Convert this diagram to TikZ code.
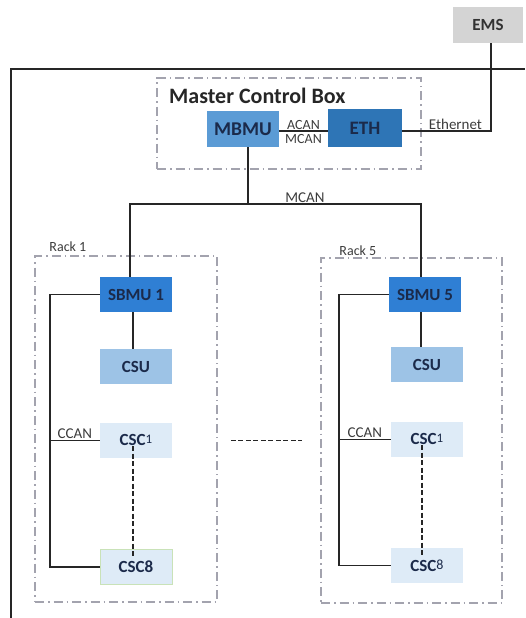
\documentclass[tikz,border=0pt]{standalone}
\usepackage{fontspec}
\setmainfont{Carlito}
\usetikzlibrary{positioning, calc}

\definecolor{emsgray}{HTML}{D4D4D4}
\definecolor{mbmublue}{HTML}{5B9BD5}
\definecolor{ethblue}{HTML}{2E75B6}
\definecolor{sbmublue}{HTML}{2F7FD4}
\definecolor{csublue}{HTML}{9DC3E6}
\definecolor{cscblue}{HTML}{DEEBF7}
\definecolor{cscgreen}{HTML}{C9E2B8}
\definecolor{boxtext}{HTML}{1B2A4A}
\definecolor{labtext}{HTML}{3C3C3C}
\definecolor{rackgray}{HTML}{A3A3AE}

\begin{document}
\begin{tikzpicture}[
    x=1pt, y=-1pt,
    % unit boxes
    unitbox/.style={
        draw=none,
        font=\fontsize{17}{17}\selectfont\bfseries,
        text=boxtext,
        align=center,
        inner sep=0pt,
        minimum width=72pt,
        minimum height=35pt
    },
    % dash-dot frames round the groups
    groupbox/.style={
        draw=rackgray,
        line width=1.5pt,
        dash pattern=on 9pt off 4pt on 1.5pt off 4pt,
        inner sep=0pt
    },
    % small bus labels
    buslabel/.style={
        font=\fontsize{15}{15}\selectfont,
        text=labtext,
        inner sep=1pt
    },
    wire/.style={line width=1.4pt, black!85},
    gapline/.style={line width=1.5pt, black!85, dash pattern=on 5pt off 2.5pt}
]
    \useasboundingbox (0,0) rectangle (525,618);

    % --- 1. EMS and outer frame ---
    \node[unitbox, fill=emsgray, minimum width=70pt, minimum height=36pt, text=black!80] (ems) at (488,25) {EMS};
    \draw[wire] (11,618) -- (11,69) -- (525,69);

    % --- 2. Master Control Box ---
    \node[groupbox, minimum width=264pt, minimum height=91pt] (mcb) at (289,123.5) {};
    \node[anchor=west, font=\fontsize{22}{22}\selectfont\bfseries, text=black!85, inner sep=0pt] (mcbtitle) at (169,96) {Master Control Box};

    \node[unitbox, fill=mbmublue, minimum height=36pt, font=\fontsize{19.5}{19.5}\selectfont\bfseries] (mbmu) at (243,129) {MBMU};
    \node[unitbox, fill=ethblue, minimum width=74pt, minimum height=38pt, font=\fontsize{19}{19}\selectfont\bfseries] (eth) at (365,128) {ETH};

    \draw[wire] (mbmu.east |- 0,131) -- node[buslabel, anchor=base, yshift=1.5pt, inner sep=0pt, font=\fontsize{14}{14}\selectfont] {ACAN} node[buslabel, anchor=north, yshift=-2.5pt, inner sep=0pt, font=\fontsize{14}{14}\selectfont] {MCAN} (eth.west |- 0,131);

    % Ethernet up to EMS
    \coordinate (ethcorner) at (491,131);
    \draw[wire] (eth.east |- ethcorner) -- node[buslabel, above, pos=0.6] {Ethernet} (ethcorner) -- (ethcorner |- ems.south);

    % --- 3. Racks ---
    % Rack 1
    \node[groupbox, minimum width=182pt, minimum height=346pt] (rack1) at (126,429) {};
    \node[buslabel, anchor=south west, font=\fontsize{14}{14}\selectfont] at (rack1.north west) [xshift=14pt, yshift=2pt] {Rack 1};

    \node[unitbox, fill=sbmublue] (sbmu1) at (136,294.5) {SBMU 1};
    \node[unitbox, fill=csublue, below=37pt of sbmu1] (csu1) {CSU};
    \node[unitbox, fill=cscblue, below=38pt of csu1] (csc1a) {CSC{\mdseries\fontsize{13}{13}\selectfont\raisebox{2.5pt}{1}}};
    \node[unitbox, fill=cscblue, draw=cscgreen, line width=1pt, below=91pt of csc1a] (csc8a) {CSC8};

    % Rack 5
    \node[groupbox, minimum width=181pt, minimum height=345pt] (rack5) at (411.5,430.5) {};
    \node[buslabel, anchor=south west, font=\fontsize{14}{14}\selectfont] at (rack5.north west) [xshift=18pt, yshift=0pt] {Rack 5};

    \node[unitbox, fill=sbmublue] (sbmu5) at (425,294.5) {SBMU 5};
    \node[unitbox, fill=csublue, below=35pt of sbmu5, xshift=2pt] (csu5) {CSU};
    \node[unitbox, fill=cscblue, below=39pt of csu5] (csc1b) {CSC{\mdseries\fontsize{13}{13}\selectfont\raisebox{2.5pt}{1}}};
    \node[unitbox, fill=cscblue, below=91pt of csc1b] (csc8b) {CSC{\mdseries\fontsize{14}{14}\selectfont\raisebox{2pt}{8}}};

    % --- 4. MCAN bus ---
    \coordinate (mbus) at (248,204);
    \draw[wire] (mbus |- mbmu.south) -- (mbus);
    \draw[wire] ([xshift=-6pt]sbmu1.north) |- (mbus) -| ([xshift=-4pt]sbmu5.north);
    \node[buslabel, above] at (305,204) {MCAN};

    % --- 5. CCAN inside the racks ---
    \draw[wire] ([xshift=-3pt]sbmu1.south) -- ([xshift=-3pt]sbmu1.south |- csu1.north);
    \draw[wire] (sbmu1.west) -- ++(-50,0) |- (csc8a.west);
    \draw[wire] (csc1a.west) -- node[buslabel, above] {CCAN} ++(-50,0);
    \draw[gapline] ([yshift=12pt, xshift=-3pt]csc1a.south) -- ([yshift=-8pt, xshift=-3pt]csc8a.north);

    \draw[wire] ([xshift=-4pt]sbmu5.south) -- ([xshift=-4pt]sbmu5.south |- csu5.north);
    \draw[wire] (sbmu5.west) -- ++(-50,0) |- (csc8b.west);
    \draw[wire] (csc1b.west) -- node[buslabel, above] {CCAN} ++(-52,0);
    \draw[gapline] ([yshift=12pt, xshift=-5pt]csc1b.south) -- ([yshift=-8pt, xshift=-5pt]csc8b.north);

    % --- 6. more racks in between ---
    \draw[gapline] ([xshift=13pt]rack1.east |- csc1a) -- ([xshift=-18pt]rack5.west |- csc1a);

\end{tikzpicture}
\end{document}
